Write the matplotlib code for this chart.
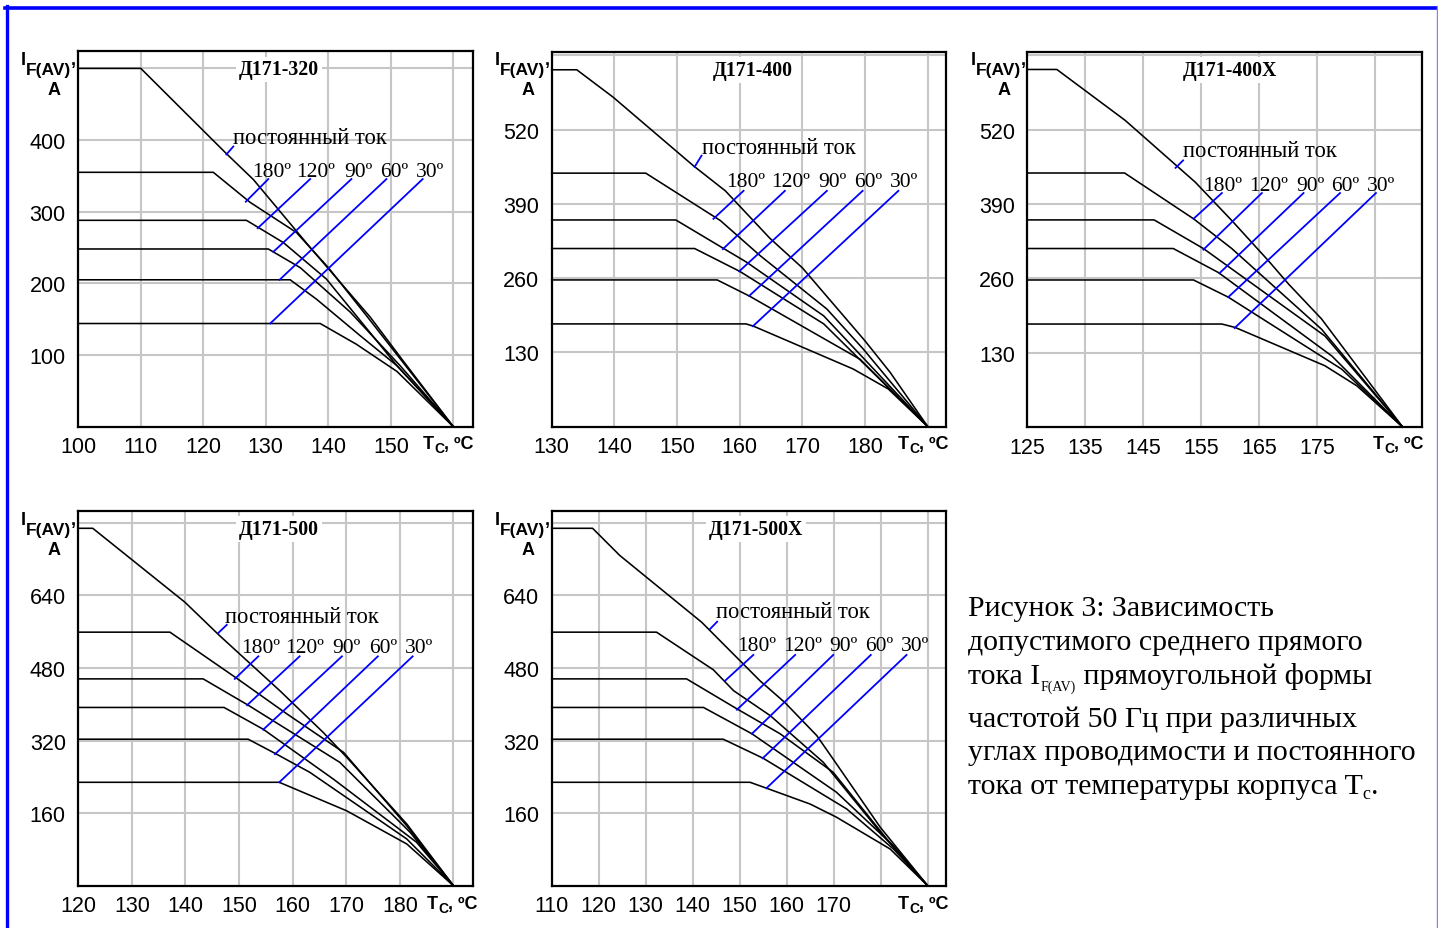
import matplotlib
matplotlib.use('Agg')
import matplotlib.pyplot as plt
from matplotlib.lines import Line2D

plt.rcParams['font.family'] = ['Liberation Sans', 'DejaVu Sans']

W, H = 1438, 929

# кривые: постоянный ток, 180, 120, 90, 60, 30 градусов
T320 = [[100, 110, 123.7, 128, 137.3, 146.7, 151.7, 160],
        [100, 121.6, 127.5, 134.9, 140, 146.1, 160],
        [100, 126.9, 132.8, 139.7, 151, 160],
        [100, 130.4, 135.5, 143.5, 151.5, 160],
        [100, 133.9, 138.1, 145.1, 151, 160],
        [100, 138.7, 144.5, 151, 160]]
I320 = [[500, 500, 381, 345, 248, 153, 95, 0],
        [355, 355, 313, 271, 222, 155, 0],
        [288, 288, 257, 206, 85, 0],
        [248, 248, 222, 160, 85, 0],
        [205, 205, 178, 127, 85, 0],
        [144, 144, 115, 77, 0]]

T400 = [[130, 134, 139.8, 152.6, 157.7, 164.8, 170, 180, 184, 190],
        [130, 145, 156.9, 163.2, 173.9, 179.7, 190],
        [130, 149.8, 161.1, 173.4, 190],
        [130, 152.8, 160, 173.4, 190],
        [130, 156.4, 161.5, 179.2, 190],
        [130, 161, 162.2, 178.1, 183.7, 190]]
I400 = [[625, 625, 577, 457, 413, 330, 278, 150, 95, 0],
        [444, 444, 361, 300, 206, 136, 0],
        [362, 362, 288, 194, 0],
        [312, 312, 272, 180, 0],
        [257, 257, 229, 118, 0],
        [180, 180, 176, 101, 66, 0]]

T400X = [[125, 130.1, 141.9, 154, 160.3, 166.6, 170.1, 175.8, 183, 189.8],
         [125, 141.8, 153.7, 160.3, 175.8, 189.8],
         [125, 146.9, 155.4, 176.4, 189.8],
         [125, 150.2, 158, 177.6, 189.8],
         [125, 153.7, 159.7, 179.3, 189.8],
         [125, 158.6, 160.9, 176.4, 181.9, 189.8]]
I400X = [[625, 625, 536, 428, 361, 291, 250, 189, 92, 0],
         [444, 444, 364, 312, 171, 0],
         [362, 362, 312, 159, 0],
         [312, 312, 270, 124, 0],
         [257, 257, 227, 101, 0],
         [180, 180, 174, 107, 72, 0]]

T500 = [[120, 122.7, 139.9, 146.4, 157.6, 165.7, 170.1, 181.3, 190],
        [120, 137.1, 149.6, 158.9, 169.5, 181.3, 190],
        [120, 143.3, 151.7, 168.8, 181.9, 190],
        [120, 147.2, 154.5, 167.6, 183.1, 190],
        [120, 151.7, 157, 163.2, 181.3, 190],
        [120, 157.5, 170.1, 181.3, 190]]
I500 = [[788, 788, 625, 551, 430, 338, 283, 136, 0],
        [559, 559, 457, 379, 294, 132, 0],
        [456, 456, 398, 272, 118, 0],
        [393, 393, 345, 235, 96, 0],
        [323, 323, 290, 250, 103, 0],
        [228, 228, 165, 92, 0]]

T500X = [[110, 118.7, 124.5, 141.9, 154.3, 159.6, 166.4, 169.9, 179.9, 190],
         [110, 132.3, 144.4, 148.7, 156.5, 167.8, 179.9, 190],
         [110, 138.7, 149.4, 158.6, 169.9, 181.3, 190],
         [110, 142.3, 152.6, 170.6, 182.7, 190],
         [110, 146.5, 155, 172.8, 182.7, 190],
         [110, 152.2, 155.7, 165, 170.6, 182, 190]]
I500X = [[788, 788, 728, 581, 452, 404, 331, 279, 129, 0],
         [559, 559, 476, 430, 375, 272, 118, 0],
         [456, 456, 390, 335, 250, 103, 0],
         [393, 393, 335, 206, 88, 0],
         [323, 323, 281, 169, 81, 0],
         [228, 228, 215, 180, 151, 81, 0]]

angles = ['180º', '120º', '90º', '60º', '30º']
dc_text = 'постоянный ток'

# оформление каждого графика
panels = [
    dict(name='Д171-320', T=T320, I=I320, box=(78.3, 51.7, 472.7, 427.7),
         xlim=(100, 163.1), ylim=(0, 524.7),
         xg=[110, 120, 130, 140, 150, 160], xl=[100, 110, 120, 130, 140, 150],
         yg=[100, 200, 300, 400, 500], yl=[100, 200, 300, 400],
         dc=(124.8, 396), dcp=((124.8, 391), (123.7, 380)),
         ay=350, ax=[130.9, 138.0, 144.8, 150.5, 156.3], atop=345.6,
         ab=[(130.4, 126.8, 314), (137.1, 128.7, 277), (143.7, 131.2, 244),
             (149.3, 132.2, 205), (155.1, 130.7, 144)],
         title=(279, 75.5), lab=(21, 65), tc=(423, 449)),
    dict(name='Д171-400', T=T400, I=I400, box=(551.7, 53.3, 946, 427.7),
         xlim=(130, 192.9), ylim=(0, 655.6),
         xg=[140, 150, 160, 170, 180, 190], xl=[130, 140, 150, 160, 170, 180],
         yg=[130, 260, 390, 520, 650], yl=[130, 260, 390, 520],
         dc=(153.9, 480), dcp=((153.9, 474.6), (152.8, 455)),
         ay=422, ax=[161.0, 168.1, 174.7, 180.5, 186.2], atop=413,
         ab=[(160.6, 155.8, 364), (167.2, 157.3, 311), (173.9, 159.9, 272),
             (179.6, 161.5, 229), (185.3, 162.1, 176)],
         title=(753, 76), lab=(495, 65), tc=(898, 449)),
    dict(name='Д171-400Х', T=T400X, I=I400X, box=(1027.3, 53.3, 1421.7, 428),
         xlim=(125, 193.1), ylim=(0, 655),
         xg=[135, 145, 155, 165, 175, 185], xl=[125, 135, 145, 155, 165, 175],
         yg=[130, 260, 390, 520, 650], yl=[130, 260, 390, 520],
         dc=(151.8, 473), dcp=((151.9, 466), (150.6, 453)),
         ay=415, ax=[158.8, 166.6, 173.8, 179.9, 186.1], atop=409,
         ab=[(158.6, 153.7, 364), (165.5, 155.4, 310), (172.7, 158.2, 269),
             (179.0, 159.7, 227), (185.2, 160.8, 173)],
         title=(1230, 76), lab=(971, 65), tc=(1373, 449)),
    dict(name='Д171-500', T=T500, I=I500, box=(78.3, 511.7, 472.7, 886.7),
         xlim=(120, 193.6), ylim=(0, 826.8),
         xg=[130, 140, 150, 160, 170, 180, 190],
         xl=[120, 130, 140, 150, 160, 170, 180],
         yg=[160, 320, 480, 640, 800], yl=[160, 320, 480, 640],
         dc=(147.4, 582), dcp=((147.7, 575), (146.1, 557)),
         ay=516, ax=[154.0, 162.3, 170.1, 176.9, 183.5], atop=505.7,
         ab=[(153.6, 149.2, 456), (161.3, 151.5, 398), (169.2, 154.5, 344),
             (175.9, 156.7, 290), (182.4, 157.5, 228)],
         title=(279, 535), lab=(21, 525), tc=(427, 909)),
    dict(name='Д171-500Х', T=T500X, I=I500X, box=(551.7, 511.7, 946, 886.7),
         xlim=(110, 193.9), ylim=(0, 826.8),
         xg=[120, 130, 140, 150, 160, 170, 180, 190],
         xl=[110, 120, 130, 140, 150, 160, 170],
         yg=[160, 320, 480, 640, 800], yl=[160, 320, 480, 640],
         dc=(145.0, 592), dcp=((145.2, 582), (143.7, 566)),
         ay=520, ax=[153.6, 163.3, 172.1, 179.7, 187.3], atop=508.8,
         ab=[(152.9, 146.9, 452), (161.8, 149.4, 388), (169.9, 152.6, 335),
             (177.9, 154.9, 281), (185.5, 155.7, 215)],
         title=(756, 535), lab=(495, 525), tc=(898, 909)),
]

fig = plt.figure(figsize=(W / 100, H / 100), dpi=100)
renderer = fig.canvas.get_renderer()


def fx(x):
    return x / W


def fy(y):
    return 1 - y / H


def chain(x, y, parts, **kw):
    # текст из кусков с индексами, y - базовая линия в пикселях сверху
    for s, size, dy in parts:
        t = fig.text(fx(x), fy(y + dy), s, fontsize=size, va='baseline', **kw)
        x = t.get_window_extent(renderer).x1
    return x


for p in panels:
    l, t, r, b = p['box']
    ax = fig.add_axes([fx(l), fy(b), (r - l) / W, (b - t) / H])
    ax.set_xlim(*p['xlim'])
    ax.set_ylim(*p['ylim'])
    xlim0 = p['xlim'][0]
    ax.set_xticks([xlim0] + p['xg'])
    ax.set_xticklabels([str(v) if v in p['xl'] else '' for v in [xlim0] + p['xg']])
    ax.set_yticks(p['yg'])
    ax.set_yticklabels([str(v) if v in p['yl'] else '' for v in p['yg']])
    ax.grid(True, color='#c6c6c6', lw=1.5)
    ax.set_axisbelow(True)
    for s in ax.spines.values():
        s.set_linewidth(1.6)
    ax.tick_params(length=0, labelsize=15.5)
    ax.tick_params(axis='x', pad=7)
    ax.tick_params(axis='y', pad=9)

    for tt, ii in zip(p['T'], p['I']):
        ax.plot(tt, ii, color='black', lw=1.15, clip_on=False, zorder=3)

    # подписи кривых
    ax.text(p['dc'][0], p['dc'][1], dc_text, family='Liberation Serif',
            fontsize=16.3, va='baseline', ha='left', zorder=4)
    (x1, y1), (x2, y2) = p['dcp']
    ax.plot([x1, x2], [y1, y2], color='#0000ff', lw=1.3, zorder=4)
    for a, xa, (xt, xb, yb) in zip(angles, p['ax'], p['ab']):
        ax.text(xa, p['ay'], a, family='Liberation Serif', fontsize=15.5,
                va='baseline', ha='center', zorder=4)
        ax.plot([xt, xb], [p['atop'], yb], color='#0000ff', lw=1.3, zorder=4)

    fig.text(fx(p['title'][0]), fy(p['title'][1]), p['name'],
             family='Liberation Serif', weight='bold', fontsize=14.3,
             ha='center', va='baseline',
             bbox=dict(facecolor='white', edgecolor='none', pad=2))

    lx, ly = p['lab']
    x_end = chain(lx, ly, [('I', 13, 0)], weight='bold')
    x_end = chain(x_end, ly, [('F(AV)', 12.5, 10)], weight='bold')
    chain(x_end, ly, [(',', 13, 0)], weight='bold')
    fig.text(fx(lx + 33), fy(ly + 30), 'A', fontsize=13, weight='bold',
             ha='center', va='baseline')

    tx, ty = p['tc']
    x_end = chain(tx, ty, [('T', 13, 0)], weight='bold')
    x_end = chain(x_end, ty, [('C', 10, 4)], weight='bold')
    chain(x_end, ty, [(', ºC', 13, 0)], weight='bold')

# подпись рисунка
cap_x = 968
fs = 21.5
serif = dict(family='Liberation Serif')
chain(cap_x, 616, [('Рисунок 3: Зависимость', fs, 0)], **serif)
chain(cap_x, 650, [('допустимого среднего прямого', fs, 0)], **serif)
xe = chain(cap_x, 684, [('тока I', fs, 0)], **serif)
xe = chain(xe, 684, [('F(AV)', 10, 7)], **serif)
chain(xe + 1, 684, [(' прямоугольной формы', fs, 0)], **serif)
chain(cap_x, 727, [('частотой 50 Гц при различных', fs, 0)], **serif)
chain(cap_x, 760, [('углах проводимости и постоянного', fs, 0)], **serif)
xe = chain(cap_x, 794, [('тока от температуры корпуса T', fs, 0)], **serif)
xe = chain(xe, 794, [('c', 13, 5)], **serif)
chain(xe, 794, [('.', fs, 0)], **serif)

# синяя рамка
fig.add_artist(Line2D([fx(5), fx(1437)], [fy(8.8), fy(8.8)], color='#0000ff', lw=2.6))
fig.add_artist(Line2D([fx(6.5), fx(6.5)], [fy(7), fy(929)], color='#0000ff', lw=2.4))
fig.add_artist(Line2D([fx(1436.5), fx(1436.5)], [fy(7), fy(929)], color='#8080ff', lw=1))

fig.savefig('out.png', dpi=100)
